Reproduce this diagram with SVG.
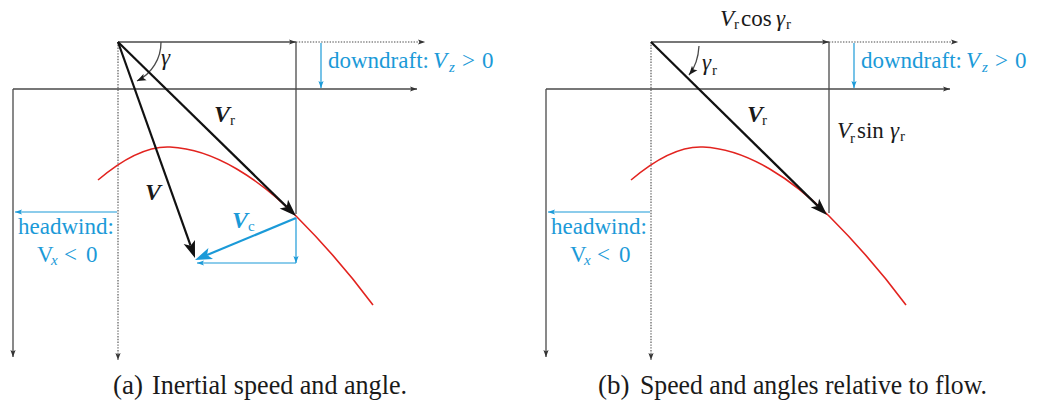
<svg xmlns="http://www.w3.org/2000/svg" width="1038" height="404" viewBox="0 0 1038 404">
<defs>
<style>
.ax{stroke:#4a4a4a;stroke-width:1.3;fill:none}
.dot{stroke:#4a4a4a;stroke-width:1.1;stroke-dasharray:1.4 1.4;fill:none}
.vec{stroke:#111;stroke-width:2.2;fill:none}
.hd{fill:#111}
.hdb{fill:#1b9ad8}
.bl{stroke:#1b9ad8;stroke-width:1.2;fill:none}
.blv{stroke:#1b9ad8;stroke-width:2.2;fill:none}
.red{stroke:#e2231f;stroke-width:1.6;fill:none}
text{font-family:"Liberation Serif","DejaVu Serif",serif}
.t{font-family:"Liberation Serif","DejaVu Serif",serif;font-size:23px;fill:#1a1a1a}
.i{font-style:italic}
.b{font-weight:bold;font-style:italic;font-size:24px}
.s{font-size:15px}
.blue{fill:#1b9ad8}
.cap{font-family:"Liberation Serif","DejaVu Serif",serif;font-size:27px;fill:#1a1a1a}
</style>
<marker id="ht" viewBox="0 0 7 6" refX="7" refY="3" markerWidth="7" markerHeight="6" markerUnits="userSpaceOnUse" orient="auto"><path d="M0,0.4 L7,3 L0,5.6 L1.5,3z" fill="#333"/></marker>
<marker id="htb" viewBox="0 0 7 6" refX="7" refY="3" markerWidth="7" markerHeight="6" markerUnits="userSpaceOnUse" orient="auto"><path d="M0,0.4 L7,3 L0,5.6 L1.5,3z" fill="#1b9ad8"/></marker>
<marker id="hk" viewBox="0 0 9 8" refX="9" refY="4" markerWidth="9" markerHeight="8" markerUnits="userSpaceOnUse" orient="auto"><path d="M0,0.5 L9,4 L0,7.5 L2,4z" fill="#1a1a1a"/></marker>
<g id="frame">
<line class="ax" x1="13" y1="89" x2="417" y2="89" marker-end="url(#ht)"/>
<line class="ax" x1="13" y1="89" x2="13" y2="357" marker-end="url(#ht)"/>
<line class="dot" x1="118" y1="42" x2="118" y2="360" marker-end="url(#ht)"/>
<line class="ax" x1="118" y1="42" x2="296" y2="42" marker-end="url(#ht)"/>
<line class="dot" x1="296" y1="42" x2="425" y2="42" marker-end="url(#ht)"/>
<line class="bl" x1="321" y1="43" x2="321" y2="88" marker-end="url(#htb)"/>
<text class="t blue" x="328" y="68">downdraft:</text>
<text class="t blue i" x="433" y="68">V</text>
<text class="t blue i s" x="449" y="72">z</text>
<text class="t blue" x="462" y="68">&gt;</text>
<text class="t blue" x="482" y="68">0</text>
<line class="bl" x1="117" y1="212" x2="15" y2="212" marker-end="url(#htb)"/>
<text class="t blue" x="66" y="234" text-anchor="middle">headwind:</text>
<text class="t blue" x="37" y="262">V</text>
<text class="t blue i s" x="51" y="265">x</text>
<text class="t blue" x="64" y="262">&lt;</text>
<text class="t blue" x="86" y="262">0</text>
<path class="red" d="M98,180 C125,157 150,146 170,147 C215,149 260,180 296,216 C322,242 350,274 373,305"/>
</g>
</defs>

<g id="panel-a">
<use href="#frame"/>
<g id="connectors-a">
<line class="ax" x1="296" y1="42" x2="296" y2="214"/>
<line class="bl" x1="296" y1="218" x2="296" y2="263" marker-end="url(#htb)"/>
<line class="bl" x1="296" y1="263" x2="197" y2="263" marker-end="url(#htb)"/>
<path class="ax" d="M161,42 A43,43 0 0 1 137,81" stroke="#1a1a1a" marker-end="url(#hk)"/>
<line class="vec" x1="118" y1="42" x2="190.6" y2="245.7"/>
<polygon class="hd" points="195,258 183.64,244 190.63,245.75 194.94,239.98"/>
<line class="vec" x1="118" y1="42" x2="286.7" y2="206.9"/>
<polygon class="hd" points="296,216 279.65,208.41 286.7,206.91 288.03,199.83"/>
<line class="blv" x1="296" y1="218" x2="207" y2="255"/>
<polygon class="hdb" points="195,260 208.4,247.93 207,255.01 213,259.01"/>
</g>
<g id="labels-a">
<text class="t i" x="161" y="65">γ</text>
<text class="t b" x="214" y="122">V</text>
<text class="t s" x="230" y="125">r</text>
<text class="t b" x="145" y="200">V</text>
<text class="t b blue" x="232" y="228">V</text>
<text class="t s blue" x="248" y="231">c</text>
</g>
</g>

<g id="panel-b">
<use href="#frame" transform="translate(533,0)"/>
<g id="connectors-b">
<line class="ax" x1="829" y1="42" x2="829" y2="213"/>
<path class="ax" d="M699,46 Q698,64 689,75" stroke="#1a1a1a" marker-end="url(#hk)"/>
<line class="vec" x1="651" y1="42" x2="817.7" y2="205.9"/>
<polygon class="hd" points="827,215 810.67,207.36 817.73,205.89 819.09,198.8"/>
</g>
<g id="labels-b">
<text class="t i" x="720" y="26">V</text>
<text class="t s" x="734" y="29">r</text>
<text class="t" x="741" y="26">cos</text>
<text class="t i" x="776" y="26">γ</text>
<text class="t s" x="786" y="29">r</text>
<text class="t i" x="702" y="70">γ</text>
<text class="t s" x="712" y="75">r</text>
<text class="t b" x="747" y="122">V</text>
<text class="t s" x="762" y="125">r</text>
<text class="t i" x="837" y="138">V</text>
<text class="t s" x="850" y="143">r</text>
<text class="t" x="857" y="138">sin</text>
<text class="t i" x="890" y="138">γ</text>
<text class="t s" x="900" y="141">r</text>
</g>
</g>

<g id="captions">
<text class="cap" x="113" y="394">(a)</text>
<text class="cap" x="152" y="394" textLength="255" lengthAdjust="spacingAndGlyphs">Inertial speed and angle.</text>
<text class="cap" x="598" y="394">(b)</text>
<text class="cap" x="640" y="394" textLength="347" lengthAdjust="spacingAndGlyphs">Speed and angles relative to flow.</text>
</g>
</svg>
